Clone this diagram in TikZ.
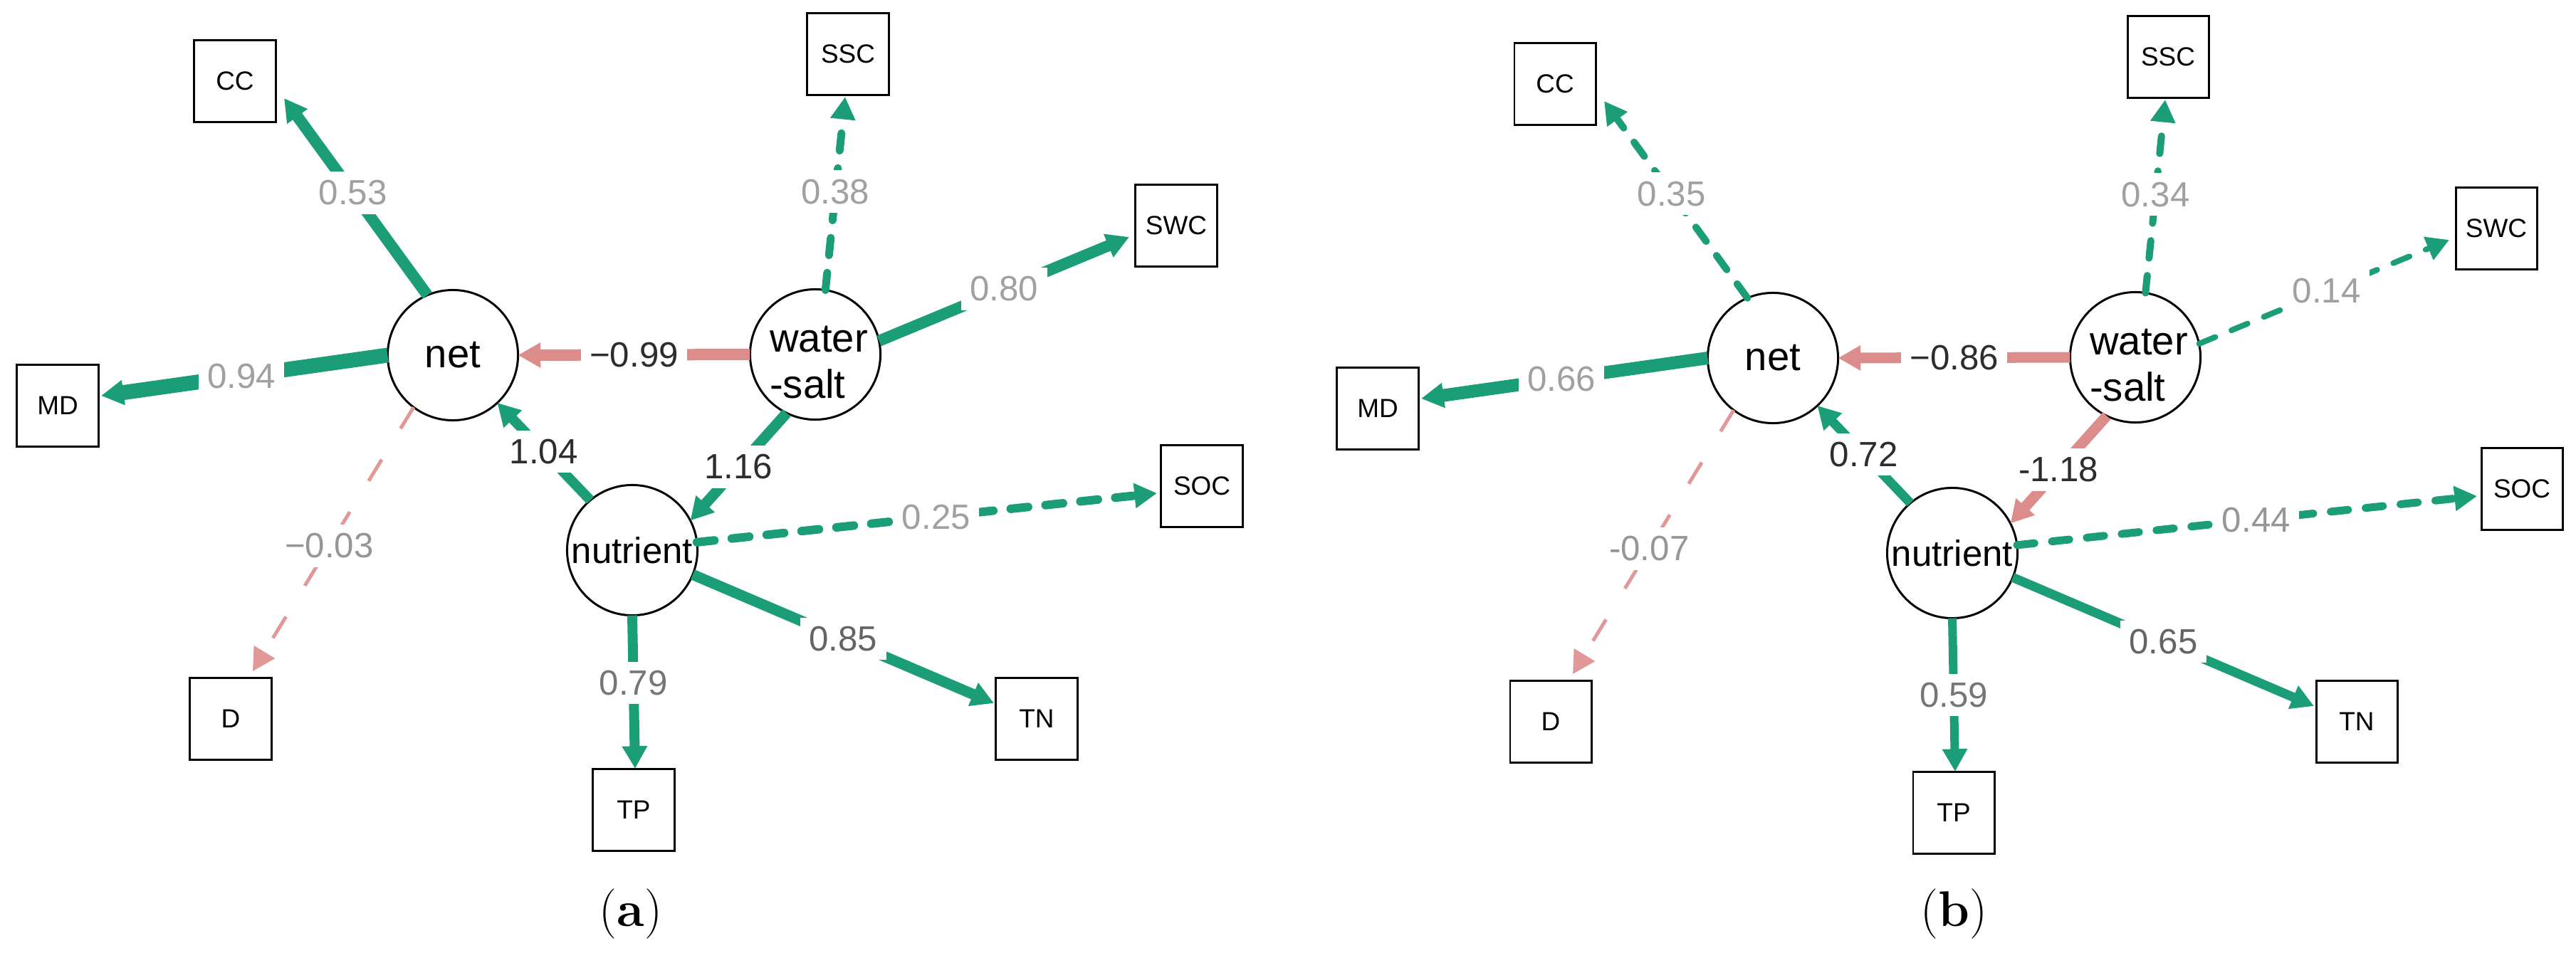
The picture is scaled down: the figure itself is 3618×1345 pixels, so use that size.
\documentclass[tikz,border=0pt]{standalone}
\usepackage{fontspec}
\newfontfamily\arial{Liberation Sans}
\usetikzlibrary{arrows.meta}
\definecolor{grn}{RGB}{27,158,119}
\definecolor{pnk}{RGB}{221,140,140}
\definecolor{pnkl}{RGB}{224,152,152}
\definecolor{lblA}{RGB}{160,160,160}
\definecolor{lblB}{RGB}{150,150,150}
\definecolor{lblC}{RGB}{118,118,118}
\definecolor{lblD}{RGB}{100,100,100}
\definecolor{lblE}{RGB}{45,45,45}
\begin{document}
\begin{tikzpicture}[x=0.01cm,y=-0.01cm,
  latent/.style={circle,draw=black,line width=0.85pt,fill=white,minimum size=1.83cm,inner sep=0pt,outer sep=0pt,font=\arial\fontsize{16}{18}\selectfont},
  obsv/.style={rectangle,draw=black,line width=0.85pt,fill=white,minimum width=1.14cm,minimum height=1.15cm,inner sep=0pt,outer sep=0pt,font=\arial\fontsize{10.5}{12}\selectfont},
  wstext/.style={align=left,inner sep=0pt,font=\arial\fontsize{16}{18.5}\selectfont},
  edgearrow/.style={-{Triangle[length=9pt,width=9.5pt]}},
  posedge/.style={edgearrow,draw=grn},
  negedge/.style={edgearrow,draw=pnk},
  dsh/.style={line cap=round,dash pattern=on 7pt off 7pt},
  dshthin/.style={draw=pnkl,dash pattern=on 10pt off 14.5pt},
  lbl/.style={fill=white,inner sep=3.5pt,font=\arial\fontsize{14}{16}\selectfont},
  capt/.style={font=\fontsize{20}{24}\selectfont}
]
\useasboundingbox (0,0) rectangle (3618,1345);

%================ panel (a) ================
\node[latent] (aNet) at (636,499) {net};
\node[latent] (aWS) at (1145,498) {};
\node[wstext] (aWStext) at ([xshift=0.05cm,yshift=-0.11cm]aWS.center) {water\\-salt};
\node[latent,font=\arial\fontsize{14.5}{16}\selectfont] (aNut) at (888,773) {nutrient};

\node[obsv] (aCC) at (330,114) {CC};
\node[obsv] (aSSC) at (1191,76) {SSC};
\node[obsv] (aSWC) at (1652,317) {SWC};
\node[obsv] (aMD) at (81,570) {MD};
\node[obsv] (aSOC) at (1688,683) {SOC};
\node[obsv] (aD) at (324,1010) {D};
\node[obsv] (aTN) at (1456,1010) {TN};
\node[obsv] (aTP) at (890,1138) {TP};

\coordinate (aCCt) at (399,138);
\coordinate (aMDt) at (142,556);
\coordinate (aSSCt) at (1187,136);
\coordinate (aSWCt) at (1586,333);
\coordinate (aSOCt) at (1625,693);
\coordinate (aTNt) at (1396,988);
\coordinate (aTPt) at (892,1080);
\coordinate (aDt) at (355,943);

\draw[posedge,line width=4.55pt] (aNet.113) -- node[lbl,text=lblA,pos=0.52]{0.53} (aCCt);
\draw[posedge,line width=5.97pt] (aNet.180) -- node[lbl,text=lblA,pos=0.51]{0.94} (aMDt);
\draw[negedge,line width=4.55pt] (aWS.180) -- node[lbl,text=lblE,pos=0.5]{−0.99} (aNet.east);
\draw[posedge,line width=3.98pt] (aNut.130) -- node[lbl,text=lblE,pos=0.5]{1.04} (aNet.-47);
\draw[posedge,line width=4.27pt] (aWS.244) -- node[lbl,text=lblE,pos=0.5]{1.16} (aNut.27);
\draw[posedge,dsh,line width=3.13pt] (aWS.81) -- node[lbl,text=lblA,pos=0.51]{0.38} (aSSCt);
\draw[posedge,line width=4.55pt] (aWS.12) -- node[lbl,text=lblA,pos=0.5]{0.80} (aSWCt);
\draw[posedge,dsh,line width=3.41pt] (aNut.7) -- node[lbl,text=lblA,pos=0.52]{0.25} (aSOCt);
\draw[posedge,line width=4.27pt] (aNut.338) -- node[lbl,text=lblD,pos=0.5]{0.85} (aTNt);
\draw[posedge,line width=3.98pt] (aNut.270) -- node[lbl,text=lblC,pos=0.44]{0.79} (aTPt);
\draw[negedge,dshthin,line width=1.42pt] (aNet.233) -- node[lbl,text=lblB,pos=0.525]{−0.03} (aDt);

\node[capt] (capA) at (886,1284) {(\textbf{a})};

%================ panel (b) ================
\begin{scope}[shift={(1854,4)}]
\node[latent] (bNet) at (636,499) {net};
\node[latent] (bWS) at (1145,498) {};
\node[wstext] (bWStext) at ([xshift=0.05cm,yshift=-0.11cm]bWS.center) {water\\-salt};
\node[latent,font=\arial\fontsize{14.5}{16}\selectfont] (bNut) at (888,773) {nutrient};

\node[obsv] (bCC) at (330,114) {CC};
\node[obsv] (bSSC) at (1191,76) {SSC};
\node[obsv] (bSWC) at (1652,317) {SWC};
\node[obsv] (bMD) at (81,570) {MD};
\node[obsv] (bSOC) at (1688,683) {SOC};
\node[obsv] (bD) at (324,1010) {D};
\node[obsv] (bTN) at (1456,1010) {TN};
\node[obsv] (bTP) at (890,1138) {TP};

\coordinate (bCCt) at (399,138);
\coordinate (bMDt) at (142,556);
\coordinate (bSSCt) at (1187,136);
\coordinate (bSWCt) at (1586,333);
\coordinate (bSOCt) at (1625,693);
\coordinate (bTNt) at (1396,988);
\coordinate (bTPt) at (892,1080);
\coordinate (bDt) at (355,943);

\draw[posedge,dsh,line width=2.85pt] (bNet.113) -- node[lbl,text=lblA,pos=0.53]{0.35} (bCCt);
\draw[posedge,line width=5.12pt] (bNet.180) -- node[lbl,text=lblA,pos=0.51]{0.66} (bMDt);
\draw[negedge,line width=4.27pt] (bWS.180) -- node[lbl,text=lblE,pos=0.5]{−0.86} (bNet.east);
\draw[posedge,line width=3.70pt] (bNut.130) -- node[lbl,text=lblE,pos=0.5]{0.72} (bNet.-47);
\draw[negedge,line width=4.27pt] (bWS.244) -- node[lbl,text=lblE,pos=0.5]{-1.18} (bNut.27);
\draw[posedge,dsh,line width=2.85pt] (bWS.81) -- node[lbl,text=lblA,pos=0.51]{0.34} (bSSCt);
\draw[posedge,dsh,line width=2.28pt] (bWS.12) -- node[lbl,text=lblA,pos=0.51]{0.14} (bSWCt);
\draw[posedge,dsh,line width=3.13pt] (bNut.7) -- node[lbl,text=lblB,pos=0.52]{0.44} (bSOCt);
\draw[posedge,line width=3.70pt] (bNut.338) -- node[lbl,text=lblD,pos=0.5]{0.65} (bTNt);
\draw[posedge,line width=3.41pt] (bNut.270) -- node[lbl,text=lblC,pos=0.5]{0.59} (bTPt);
\draw[negedge,dshthin,line width=1.42pt] (bNet.233) -- node[lbl,text=lblB,pos=0.525]{-0.07} (bDt);

\node[capt] (capB) at (890,1280) {(\textbf{b})};
\end{scope}
\end{tikzpicture}
\end{document}
